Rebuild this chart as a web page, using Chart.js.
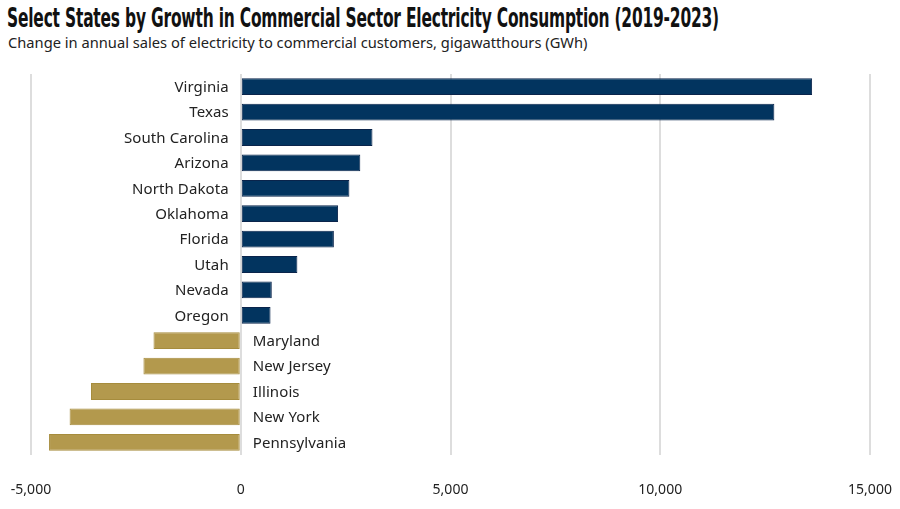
<!DOCTYPE html>
<html>
<head>
<meta charset="utf-8">
<script src="https://cdn.jsdelivr.net/npm/chart.js@4.4.0/dist/chart.umd.min.js"></script>
<style>
  html, body { margin: 0; padding: 0; background: #fff; }
  #wrap { position: relative; width: 900px; height: 509px; overflow: hidden; }
  #title { position: absolute; left: 7px; top: 2px; white-space: nowrap; transform-origin: 0 0;
    font-family: "Liberation Sans Narrow", "DejaVu Sans Condensed", "DejaVu Sans", sans-serif;
    font-weight: bold; font-size: 27px; line-height: 32px; color: #111; letter-spacing: -0.3px; }
  #subtitle { position: absolute; left: 8px; top: 33px; white-space: nowrap; transform-origin: 0 0;
    font-family: "Noto Sans", sans-serif; font-size: 14.5px; line-height: 18px; color: #222; }
  canvas { position: absolute; left: 0; top: 0; }
</style>
</head>
<body>
<div id="wrap">
  <div id="title">Select States by Growth in Commercial Sector Electricity Consumption (2019-2023)</div>
  <div id="subtitle">Change in annual sales of electricity to commercial customers, gigawatthours (GWh)</div>
  <canvas id="c" width="900" height="509"></canvas>
</div>
<script>
const states = ["Virginia","Texas","South Carolina","Arizona","North Dakota","Oklahoma","Florida","Utah","Nevada","Oregon","Maryland","New Jersey","Illinois","New York","Pennsylvania"];
const changeGWh = [13620, 12720, 3140, 2850, 2590, 2320, 2220, 1350, 740, 710, -2080, -2320, -3570, -4080, -4570];
const xTicks = [-5000, 0, 5000, 10000, 15000];

function fit(id, w) {
  const el = document.getElementById(id);
  const cur = el.scrollWidth;
  el.style.transform = 'scaleX(' + (w / cur) + ')';
}
fit('title', 712);
fit('subtitle', 579);

const navy = '#02345f', navyB = '#0a244b';
const gold = '#b3994d', goldB = '#a68c3d';

const labelPlugin = {
  id: 'stateLabels',
  afterDatasetsDraw(chart) {
    const ctx = chart.ctx;
    const xs = chart.scales.x, ys = chart.scales.y;
    const x0 = xs.getPixelForValue(0);
    ctx.save();
    ctx.font = '15px "Noto Sans", sans-serif';
    ctx.fillStyle = '#222';
    ctx.textBaseline = 'middle';
    try { ctx.letterSpacing = '0.1px'; } catch (e) {}
    states.forEach((s, i) => {
      const y = ys.getPixelForValue(i) + 1;
      if (changeGWh[i] >= 0) {
        ctx.textAlign = 'right';
        ctx.fillText(s, x0 - 12, y);
      } else {
        ctx.textAlign = 'left';
        ctx.fillText(s, x0 + 12, y);
      }
    });
    ctx.restore();
  }
};

new Chart(document.getElementById('c'), {
  type: 'bar',
  data: {
    labels: states,
    datasets: [{
      data: changeGWh,
      backgroundColor: changeGWh.map(v => v >= 0 ? navy : gold),
      borderColor: changeGWh.map(v => v >= 0 ? navyB : goldB),
      borderWidth: 1,
      borderSkipped: false,
      barPercentage: 0.66,
      categoryPercentage: 1.0
    }]
  },
  options: {
    indexAxis: 'y',
    responsive: false,
    animation: false,
    devicePixelRatio: 1,
    layout: { padding: { top: 74, left: 31, right: 30, bottom: 8 } },
    plugins: { legend: { display: false }, tooltip: { enabled: false } },
    scales: {
      x: {
        min: -5000, max: 15000,
        afterBuildTicks(axis) { axis.ticks = xTicks.map(v => ({ value: v })); },
        afterFit(scale) {
          scale.height = 46;
          scale.paddingLeft = 0; scale.paddingRight = 0;
          scale.paddingTop = 0; scale.paddingBottom = 0;
        },
        grid: { color: '#dddddd', lineWidth: 2, drawTicks: false },
        border: { display: false },
        ticks: {
          padding: 27,
          color: '#222',
          font: { family: '"Noto Sans", sans-serif', size: 14 },
          callback: v => v.toLocaleString('en-US')
        }
      },
      y: {
        display: false,
        grid: { display: false }
      }
    }
  },
  plugins: [labelPlugin]
});
</script>
</body>
</html>
